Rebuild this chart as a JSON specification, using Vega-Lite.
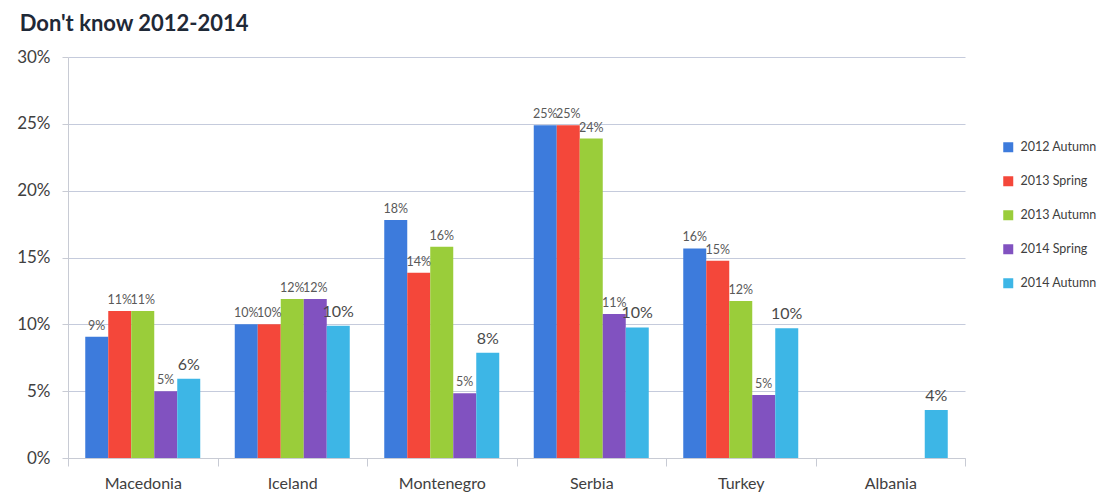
{
  "$schema": "https://vega.github.io/schema/vega-lite/v6.json",
  "autosize": {"type": "none"},
  "width": 897,
  "height": 401,
  "padding": {"left": 68, "top": 57, "right": 142, "bottom": 36},
  "background": "white",
  "config": {"view": {"stroke": null}},
  "title": {
    "text": "Don't know 2012-2014",
    "anchor": "start",
    "font": "Lato",
    "fontSize": 22,
    "fontWeight": "bold",
    "color": "#1f2937",
    "offset": 12,
    "dx": 3
  },
  "data": {
    "values": [
      {"country": "Macedonia", "series": "2012 Autumn", "value": 0.0907},
      {"country": "Macedonia", "series": "2013 Spring", "value": 0.110},
      {"country": "Macedonia", "series": "2013 Autumn", "value": 0.110},
      {"country": "Macedonia", "series": "2014 Spring", "value": 0.050},
      {"country": "Macedonia", "series": "2014 Autumn", "value": 0.0593},
      {"country": "Iceland", "series": "2012 Autumn", "value": 0.100},
      {"country": "Iceland", "series": "2013 Spring", "value": 0.100},
      {"country": "Iceland", "series": "2013 Autumn", "value": 0.119},
      {"country": "Iceland", "series": "2014 Spring", "value": 0.119},
      {"country": "Iceland", "series": "2014 Autumn", "value": 0.099},
      {"country": "Montenegro", "series": "2012 Autumn", "value": 0.178},
      {"country": "Montenegro", "series": "2013 Spring", "value": 0.1386},
      {"country": "Montenegro", "series": "2013 Autumn", "value": 0.158},
      {"country": "Montenegro", "series": "2014 Spring", "value": 0.0484},
      {"country": "Montenegro", "series": "2014 Autumn", "value": 0.0788},
      {"country": "Serbia", "series": "2012 Autumn", "value": 0.249},
      {"country": "Serbia", "series": "2013 Spring", "value": 0.249},
      {"country": "Serbia", "series": "2013 Autumn", "value": 0.239},
      {"country": "Serbia", "series": "2014 Spring", "value": 0.1077},
      {"country": "Serbia", "series": "2014 Autumn", "value": 0.0977},
      {"country": "Turkey", "series": "2012 Autumn", "value": 0.1568},
      {"country": "Turkey", "series": "2013 Spring", "value": 0.1476},
      {"country": "Turkey", "series": "2013 Autumn", "value": 0.1174},
      {"country": "Turkey", "series": "2014 Spring", "value": 0.0471},
      {"country": "Turkey", "series": "2014 Autumn", "value": 0.097},
      {"country": "Albania", "series": "2014 Autumn", "value": 0.0359}
    ]
  },
  "encoding": {
    "x": {
      "field": "country",
      "type": "nominal",
      "sort": ["Macedonia", "Iceland", "Montenegro", "Serbia", "Turkey", "Albania"],
      "scale": {"paddingInner": 0, "paddingOuter": 0},
      "axis": {
        "title": null,
        "labelAngle": 0,
        "labelFont": "Lato",
        "labelFontSize": 16,
        "labelColor": "#404040",
        "labelPadding": 9,
        "tickBand": "extent",
        "tickSize": 8,
        "tickColor": "#c8cbd4",
        "domainColor": "#c8cbd4",
        "grid": false
      }
    },
    "xOffset": {
      "field": "series",
      "type": "nominal",
      "sort": ["2012 Autumn", "2013 Spring", "2013 Autumn", "2014 Spring", "2014 Autumn"],
      "scale": {"paddingInner": 0, "paddingOuter": 0.75}
    },
    "y": {
      "field": "value",
      "type": "quantitative",
      "scale": {"domain": [0, 0.3]},
      "axis": {
        "title": null,
        "format": ".0%",
        "values": [0, 0.05, 0.1, 0.15, 0.2, 0.25, 0.3],
        "labelFont": "Lato",
        "labelFontSize": 17,
        "labelColor": "#404040",
        "labelPadding": 12,
        "tickSize": 6,
        "tickColor": "#c8cbd4",
        "domainColor": "#c8cbd4",
        "gridColor": "#c5cbdc",
        "gridWidth": 1.2
      }
    }
  },
  "layer": [
    {
      "mark": {"type": "bar"},
      "encoding": {
        "color": {
          "field": "series",
          "type": "nominal",
          "sort": ["2012 Autumn", "2013 Spring", "2013 Autumn", "2014 Spring", "2014 Autumn"],
          "scale": {
            "domain": ["2012 Autumn", "2013 Spring", "2013 Autumn", "2014 Spring", "2014 Autumn"],
            "range": ["#3d7bdc", "#f4473a", "#9acd3a", "#8152c0", "#3db6e6"]
          },
          "legend": {
            "title": null,
            "orient": "none",
            "legendX": 934,
            "legendY": 84,
            "symbolType": "square",
            "symbolSize": 100,
            "symbolStrokeWidth": 0,
            "labelFont": "Lato",
            "labelFontSize": 12.5,
            "labelColor": "#404040",
            "rowPadding": 21,
            "labelOffset": 6
          }
        }
      }
    },
    {
      "transform": [{"filter": "datum.series !== '2014 Autumn'"}],
      "mark": {"type": "text", "baseline": "bottom", "dy": -4, "font": "Lato", "fontSize": 12.5, "color": "#595959"},
      "encoding": {
        "text": {"field": "value", "type": "quantitative", "format": ".0%"}
      }
    },
    {
      "transform": [{"filter": "datum.series === '2014 Autumn'"}],
      "mark": {"type": "text", "baseline": "bottom", "dy": -6, "font": "Lato", "fontSize": 16, "color": "#4a4a4a"},
      "encoding": {
        "text": {"field": "value", "type": "quantitative", "format": ".0%"}
      }
    }
  ]
}
